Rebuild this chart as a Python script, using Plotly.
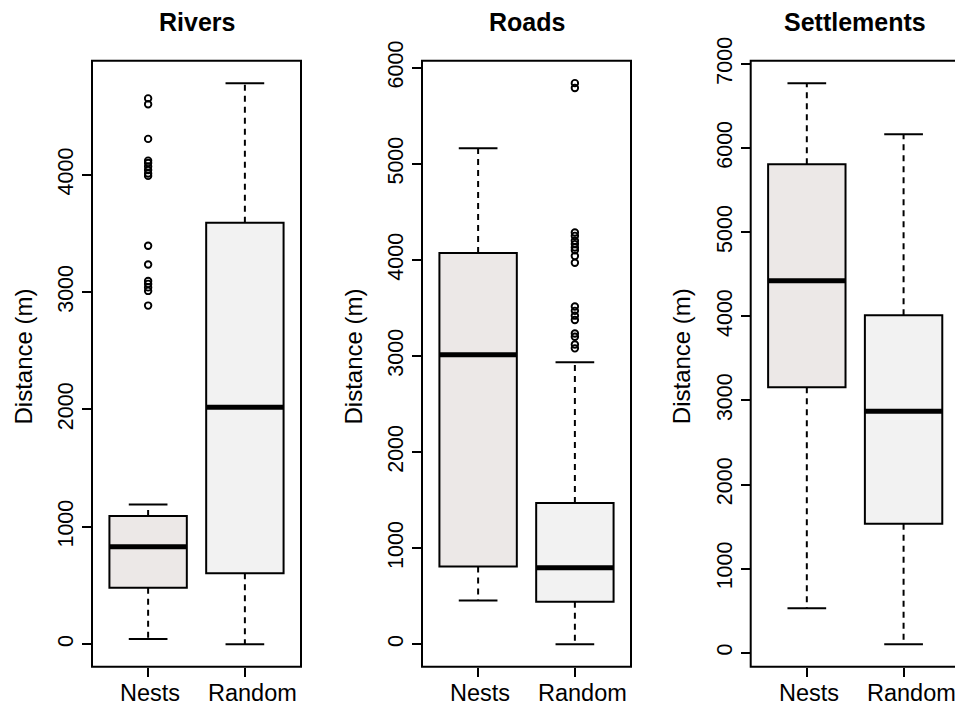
import plotly.graph_objects as go

# ---------------- data ----------------
panel_titles = ["Rivers", "Roads", "Settlements"]
group_labels = ["Nests", "Random"]
y_title = "Distance (m)"

# five-number stats: lower whisker, Q1, median, Q3, upper whisker
rivers_nests = [45, 482, 831, 1093, 1191]
rivers_random = [0, 604, 2019, 3590, 4780]
roads_nests = [455, 808, 3014, 4073, 5162]
roads_random = [0, 442, 795, 1471, 2934]
settle_nests = [528, 3157, 4424, 5807, 6772]
settle_random = [101, 1533, 2871, 4012, 6164]

rivers_nests_out = [2885, 3010, 3040, 3070, 3095, 3235, 3395, 3990, 4010,
                    4040, 4070, 4100, 4120, 4305, 4600, 4650]
rivers_random_out = []
roads_nests_out = []
roads_random_out = [3080, 3120, 3200, 3235, 3375, 3420, 3470, 3515, 3970,
                    4040, 4100, 4130, 4165, 4200, 4250, 4285, 5790, 5840]
settle_nests_out = []
settle_random_out = []

panels = [
    ([rivers_nests, rivers_random], [rivers_nests_out, rivers_random_out]),
    ([roads_nests, roads_random], [roads_nests_out, roads_random_out]),
    ([settle_nests, settle_random], [settle_nests_out, settle_random_out]),
]

# ---------------- style ----------------
W, H = 955, 703
FILLS = ["#ECE8E7", "#F2F2F2"]
FONT = "Liberation Sans, Arial, Helvetica, sans-serif"
BOXW = 0.8
CAPW = 0.4
LABEL_SHIFT = [2, 8]                                  # px nudge of group labels
panel_px = [(92, 301), (422, 631), (750.7, 959.7)]   # full frame extent in px
top_px, bot_px = 60.7, 666.7
unit_px = (panel_px[0][1] - panel_px[0][0]) / 2.16   # px per category unit

fig = go.Figure()
layout = dict(
    width=W, height=H, margin=dict(l=0, r=0, t=0, b=0, pad=0), autosize=False,
    paper_bgcolor="white", plot_bgcolor="white", showlegend=False,
    font=dict(family=FONT, color="black"),
)
shapes, annotations = [], []
ydom = [(H - bot_px) / H, (H - top_px) / H]

for i, (stats, outs) in enumerate(panels):
    n = i + 1
    xa = "x" if n == 1 else f"x{n}"
    ya = "y" if n == 1 else f"y{n}"
    xkey = "xaxis" if n == 1 else f"xaxis{n}"
    ykey = "yaxis" if n == 1 else f"yaxis{n}"
    pos = [1, 2]

    x0px, x1px = panel_px[i]
    vis_x1 = min(x1px, W)
    xr0 = 0.42
    xr1 = xr0 + (vis_x1 - x0px) / unit_px

    allv = [v for s in stats for v in s] + [v for o in outs for v in o]
    lo, hi = min(allv), max(allv)
    pad = 0.04 * (hi - lo)

    # boxes
    fig.add_trace(go.Bar(
        x=pos, base=[s[1] for s in stats], y=[s[3] - s[1] for s in stats],
        width=BOXW, marker=dict(color=FILLS, line=dict(color="black", width=2)),
        xaxis=xa, yaxis=ya, hoverinfo="skip"))

    # whiskers (dashed)
    wx, wy = [], []
    for p, s in zip(pos, stats):
        wx += [p, p, None, p, p, None]
        wy += [s[3], s[4], None, s[1], s[0], None]
    fig.add_trace(go.Scatter(x=wx, y=wy, mode="lines",
                             line=dict(color="black", width=2, dash="6px,5px"),
                             xaxis=xa, yaxis=ya, hoverinfo="skip"))
    # caps
    cx, cy = [], []
    for p, s in zip(pos, stats):
        for v in (s[0], s[4]):
            cx += [p - CAPW / 2, p + CAPW / 2, None]
            cy += [v, v, None]
    fig.add_trace(go.Scatter(x=cx, y=cy, mode="lines",
                             line=dict(color="black", width=2),
                             xaxis=xa, yaxis=ya, hoverinfo="skip"))
    # medians
    mx, my = [], []
    for p, s in zip(pos, stats):
        mx += [p - BOXW / 2, p + BOXW / 2, None]
        my += [s[2], s[2], None]
    fig.add_trace(go.Scatter(x=mx, y=my, mode="lines",
                             line=dict(color="black", width=5),
                             xaxis=xa, yaxis=ya, hoverinfo="skip"))
    # outliers
    ox, oy = [], []
    for p, o in zip(pos, outs):
        ox += [p] * len(o)
        oy += o
    if ox:
        fig.add_trace(go.Scatter(x=ox, y=oy, mode="markers",
                                 marker=dict(symbol="circle-open", size=6.5,
                                             color="black", line=dict(width=1.9)),
                                 xaxis=xa, yaxis=ya, hoverinfo="skip"))

    layout[xkey] = dict(
        domain=[x0px / W, vis_x1 / W], range=[xr0, xr1], anchor=ya,
        tickmode="array", tickvals=pos, showticklabels=False,
        ticks="outside", ticklen=9, tickwidth=2, tickcolor="black",
        showline=False, showgrid=False, zeroline=False, fixedrange=True,
        automargin=False,
    )
    layout[ykey] = dict(
        domain=ydom, range=[lo - pad, hi + pad], anchor=xa,
        tick0=0, dtick=1000, ticks="outside", ticklen=9, tickwidth=2,
        tickcolor="black", tickangle=-90, showline=False, showgrid=False,
        zeroline=False, fixedrange=True, automargin=False,
        tickfont=dict(size=21.5, family=FONT, color="black"),
    )
    # group labels under the panel
    for p, lab, sh in zip(pos, group_labels, LABEL_SHIFT):
        annotations.append(dict(text=lab, xref=xa, yref="paper", x=p,
                                y=1 - 692.5 / H, xshift=sh, showarrow=False,
                                xanchor="center", yanchor="middle",
                                font=dict(size=23.5, family=FONT, color="black")))
    # frame
    shapes.append(dict(type="rect", xref=f"{xa} domain", yref=f"{ya} domain",
                       x0=0, x1=(x1px - x0px) / (vis_x1 - x0px), y0=0, y1=1,
                       line=dict(color="black", width=2), layer="above"))
    # panel title
    annotations.append(dict(text=f"<b>{panel_titles[i]}</b>", xref="paper", yref="paper",
                            x=(x0px + x1px) / 2 / W, y=1 - 22 / H, showarrow=False,
                            xanchor="center", yanchor="middle",
                            font=dict(size=25, family=FONT, color="black")))
    # y-axis title
    annotations.append(dict(text=y_title, xref="paper", yref="paper",
                            x=(x0px - 69) / W, y=1 - 356.5 / H,
                            textangle=-90, showarrow=False,
                            xanchor="center", yanchor="middle",
                            font=dict(size=24, family=FONT, color="black")))

layout["shapes"] = shapes
layout["annotations"] = annotations
fig.update_layout(**layout)
fig.write_html("out.html", config={"displayModeBar": False},
               post_script="document.body.style.margin='0';document.body.style.padding='0';")
